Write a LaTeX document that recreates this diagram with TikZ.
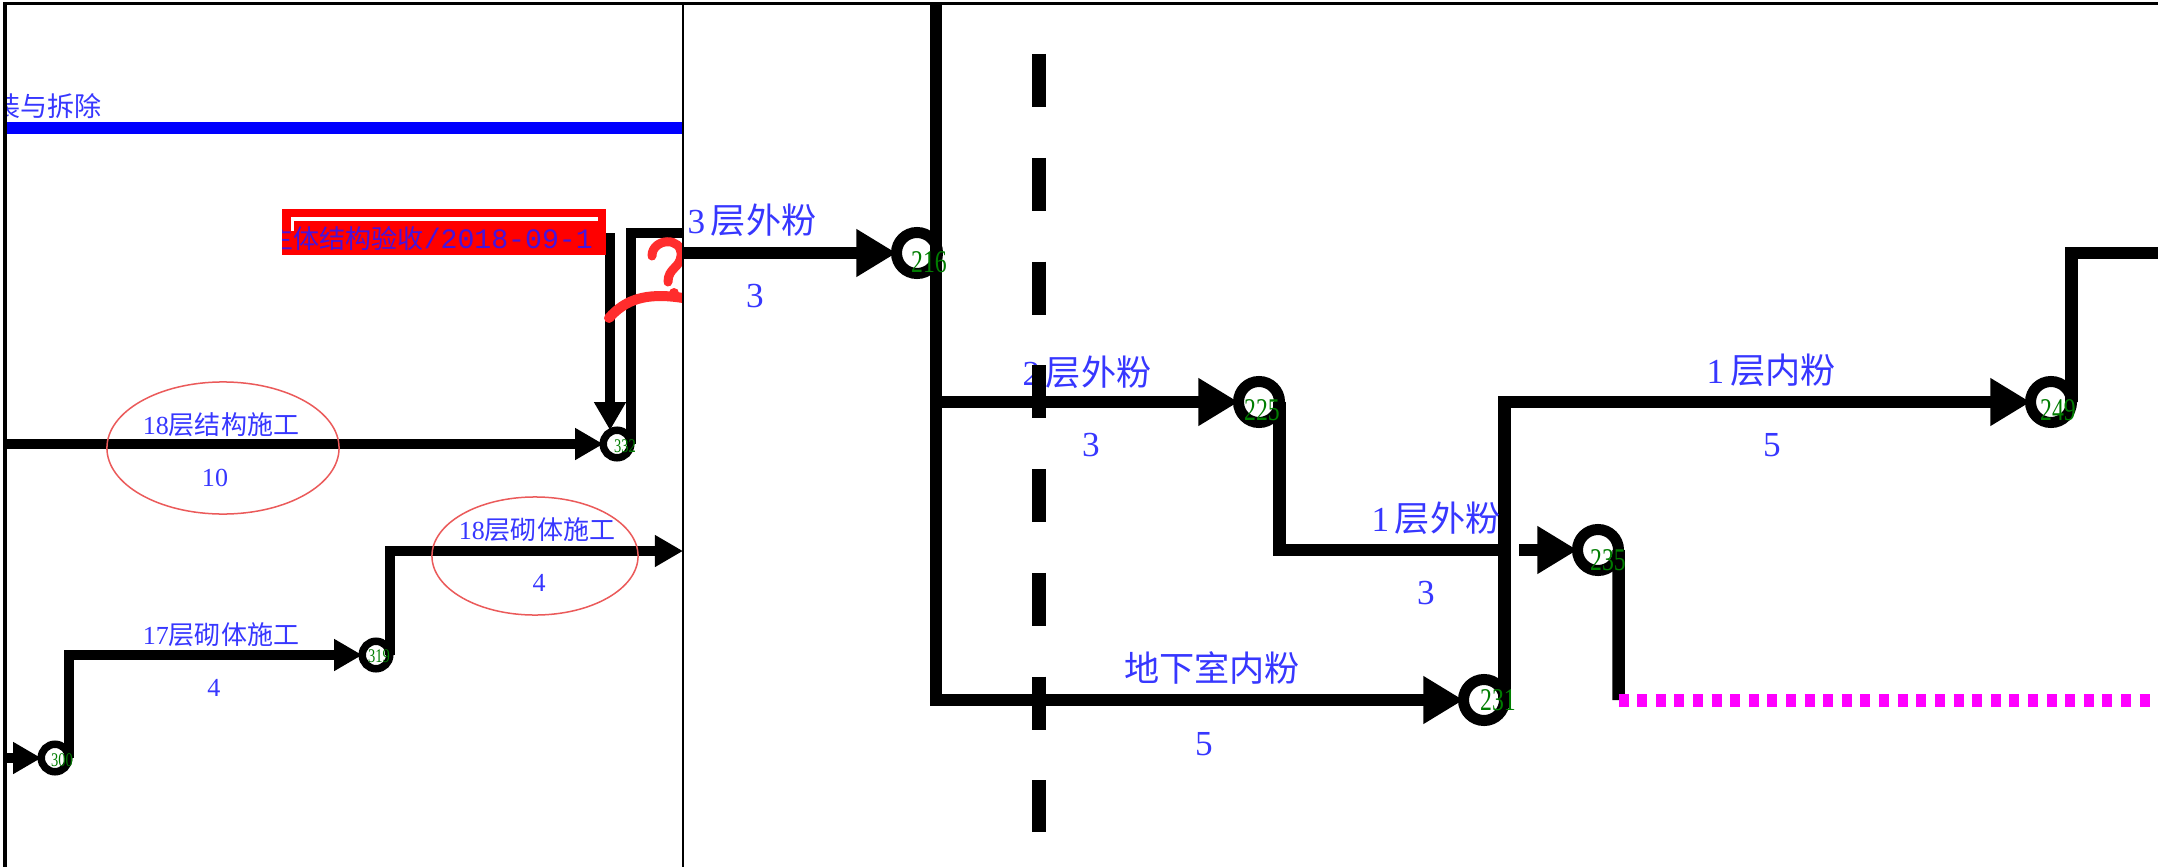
\documentclass[tikz,border=0pt]{standalone}
\usepackage{fontspec}
\setmainfont{Liberation Serif}
\newfontfamily\cjk{Noto Sans CJK SC}
\newfontfamily\monof{Liberation Mono}
\usetikzlibrary{arrows.meta}
\definecolor{lblue}{RGB}{55,55,255}
\definecolor{ngreen}{RGB}{0,125,0}
\definecolor{ellred}{RGB}{235,90,90}
\definecolor{boxred}{RGB}{255,0,0}
\definecolor{boxtxt}{RGB}{70,20,220}
\definecolor{scrib}{RGB}{255,45,45}
\definecolor{mag}{RGB}{255,0,255}
\definecolor{topblue}{RGB}{0,0,255}
\begin{document}
\begin{tikzpicture}[x=0.01cm,y=-0.01cm,
 bignode/.style={circle,draw=black,line width=0.11cm,fill=white,minimum size=0.41cm,inner sep=0pt,outer sep=0pt},
 smallnode/.style={circle,draw=black,line width=0.075cm,fill=white,minimum size=0.275cm,inner sep=0pt,outer sep=0pt},
 bigline/.style={line width=0.125cm},
 bigarrow/.style={bigline,-{Triangle[length=0.4cm,width=0.45cm]}},
 smallline/.style={line width=0.095cm},
 smallarrow/.style={smallline,-{Triangle[length=0.28cm,width=0.3cm]}},
 rlabel/.style={text=lblue,font=\fontsize{10}{12}\selectfont,inner sep=0pt},
 llabel/.style={text=lblue,font=\fontsize{7.4}{9}\selectfont,inner sep=0pt},
 bignum/.style={text=ngreen,font=\fontsize{9}{10}\selectfont,inner sep=0pt},
 smallnum/.style={text=ngreen,font=\fontsize{5.5}{6}\selectfont,inner sep=0pt},
 ell/.style={draw=ellred,line width=0.015cm}
]
\useasboundingbox (0,0) rectangle (2158,867);
\fill[white] (0,0) rectangle (2158,867);

% ---------------- left panel ----------------
\begin{scope}
\clip (5,4) rectangle (683,867);
\node[anchor=west,inner sep=0pt,text=lblue,font=\fontsize{7.7}{9}\selectfont] (title) at (-7,106) {\cjk 装与拆除};
\end{scope}
\draw[topblue,line width=0.11cm] (5,128) -- (683,128);

\node[smallnode] (n332) at (617,444) {};
\node[smallnode] (n319) at (376,655) {};
\node[smallnode] (n300) at (55,758) {};

\coordinate (cA) at (610,233);
\draw[smallarrow] (cA) -- (cA |- n332.north);
\coordinate (cB) at (683,233);
\draw[smallline] (cB) -| (n332.east);

\fill[boxred] (282,209) rectangle (606,255);
\begin{scope}
\clip (282,209) rectangle (606,255);
\node[anchor=west,inner sep=0pt,text=boxtxt] (redtxt) at (267,239) {\cjk\fontsize{7.4}{9}\selectfont 主体结构验收\monof\fontsize{8.0}{9}\selectfont/2018-09-1};
\end{scope}
\draw[white,line width=0.03cm] (292,231) -- (292,219) -- (598,219);

\coordinate (cL1) at (5,444);
\draw[smallarrow] (cL1) -- (n332.west);
\coordinate (cL3) at (5,758);
\draw[smallarrow] (cL3) -- (n300.west);
\draw[smallarrow] (n300.east) |- (n319.west);
\coordinate (cL2) at (683,551);
\draw[smallarrow] (n319.east) |- (cL2);

\draw[ell] (223,448) ellipse [x radius=1.16cm,y radius=0.66cm];
\draw[ell] (535,556) ellipse [x radius=1.03cm,y radius=0.59cm];

\node[llabel] (t18s) at (221,425) {18\cjk 层结构施工};
\node[llabel] (d18s) at (215,478) {10};
\node[llabel] (t18q) at (537,530) {18\cjk 层砌体施工};
\node[llabel] (d18q) at (539,583) {4};
\node[llabel] (t17q) at (221,635) {17\cjk 层砌体施工};
\node[llabel] (d17q) at (214,688) {4};

\node[smallnum] (l332) at (625,446) {\scalebox{0.75}[1]{332}};
\node[smallnum] (l319) at (379,656) {\scalebox{0.75}[1]{319}};
\node[smallnum] (l300) at (62,760) {\scalebox{0.75}[1]{300}};

\begin{scope}
\clip (5,4) rectangle (683,867);
\draw[scrib,line width=0.09cm,line cap=round] (652,256) .. controls (652,238) and (683,236) .. (681,256) .. controls (680,268) and (668,268) .. (668,282);
\fill[scrib] (674,293) circle [radius=0.05cm];
\draw[scrib,line width=0.1cm,line cap=round] (609,318) .. controls (625,300) and (645,292) .. (683,298);
\end{scope}

% ---------------- right panel ----------------
\node[bignode] (n216) at (917,253) {};
\node[bignode] (n225) at (1259,402) {};
\node[bignode] (n231) at (1484,700) {};
\node[bignode] (n235) at (1598,550) {};
\node[bignode] (n249) at (2051,402) {};

\coordinate (cR3) at (683,253);
\draw[bigarrow] (cR3) -- (n216.west);
\coordinate (cTop) at (936,4);
\draw[bigarrow] (cTop) |- (n231.west);
\coordinate (c2s) at (936,402);
\draw[bigarrow] (c2s) -- (n225.west);
\coordinate (c1e) at (1505,550);
\draw[bigline] (n225.east) |- (c1e);
\coordinate (c1s) at (1519,550);
\draw[bigarrow] (c1s) -- (n235.west);
\draw[bigarrow] (n231.east) |- (n249.west);
\coordinate (cRt) at (2158,253);
\draw[bigline] (n249.east) |- (cRt);
\coordinate (cM) at (1618.5,700);
\draw[bigline] (n235.east) -- (cM);
\coordinate (cMe) at (2158,700);
\draw[mag,line width=0.13cm,dash pattern=on 0.1cm off 0.086cm] (cM) -- (cMe);

\node[rlabel] (t3o) at (752,220) {3\,\cjk 层外粉};
\node[rlabel] (d3o) at (755,296) {3};
\node[rlabel] (t2o) at (1087,372) {2\,\cjk 层外粉};
\node[rlabel] (d2o) at (1091,445) {3};
\node[rlabel] (t1o) at (1436,518) {1\,\cjk 层外粉};
\node[rlabel] (d1o) at (1426,593) {3};
\node[rlabel] (t1i) at (1771,370) {1\,\cjk 层内粉};
\node[rlabel] (d1i) at (1772,445) {5};
\node[rlabel] (tb) at (1212,668) {\cjk 地下室内粉};
\node[rlabel] (db) at (1204,744) {5};

\node[bignum] (l216) at (929,262) {\scalebox{0.75}[1]{216}};
\node[bignum] (l225) at (1262,410) {\scalebox{0.75}[1]{225}};
\node[bignum] (l231) at (1498,700) {\scalebox{0.75}[1]{231}};
\node[bignum] (l235) at (1608,560) {\scalebox{0.75}[1]{235}};
\node[bignum] (l249) at (2058,410) {\scalebox{0.75}[1]{249}};

\coordinate (dA) at (1039,54);
\coordinate (dB) at (1039,832);
\draw[line width=0.14cm,dash pattern=on 0.53cm off 0.507cm] (dA) -- (dB);

% frame
\draw[line width=0.03cm] (5,867) -- (5,4) -- (2158,4);
\draw[line width=0.02cm] (683,4) -- (683,867);
\end{tikzpicture}
\end{document}
